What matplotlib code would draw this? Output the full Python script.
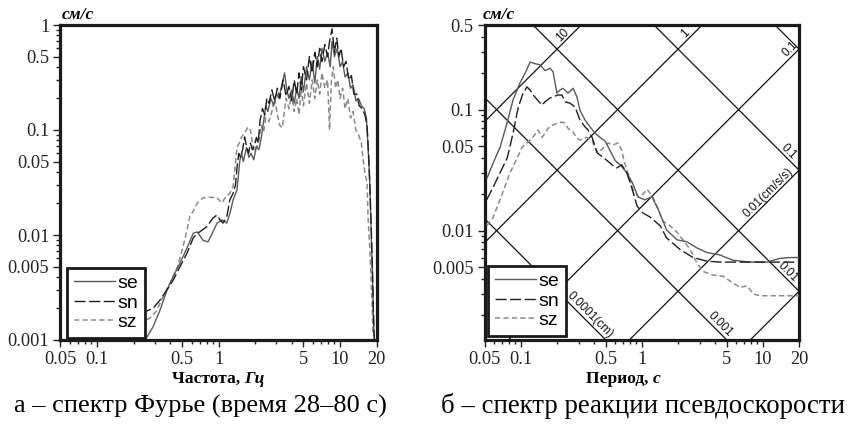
import numpy as np
import matplotlib
matplotlib.use('Agg')
import matplotlib.pyplot as plt
from matplotlib.ticker import FixedLocator, FixedFormatter, NullFormatter

# ---------------- data (left: Fourier spectrum) ----------------
f_se = [0.10,0.15,0.20,0.249,0.289,0.33,0.377,0.423,0.482,0.55,0.62,0.67,0.745,0.82,0.90,0.97,1.07,1.17,1.24,1.32,
        1.42,1.50,1.55,1.60,1.70,1.78,1.85,1.95,2.05,2.15,2.25,2.35,2.45,2.55,2.70,2.85,3.00,3.15,3.30,3.50,
        3.65,3.80,4.00,4.20,4.40,4.60,4.80,5.00,5.30,5.60,5.90,6.20,6.50,6.80,7.10,7.50,7.90,8.30,8.60,9.00,
        9.50,10.0,10.5,11.0,11.6,12.2,12.8,13.5,14.2,15.0,15.8,16.5,17.0,17.5,18.0,18.5,19.0,19.5]
a_se = [0.00098,0.00097,0.00098,0.00100,0.00133,0.00192,0.0030,0.0040,0.0054,0.0075,0.0104,0.0107,0.0089,0.0086,0.0107,
        0.0129,0.0139,0.0130,0.016,0.0216,0.027,0.052,0.060,0.050,0.068,0.055,0.060,0.052,0.070,0.065,
        0.085,0.12,0.17,0.15,0.20,0.17,0.22,0.20,0.26,0.35,0.24,0.20,0.24,0.18,0.25,0.20,0.32,0.23,0.40,0.30,
        0.45,0.28,0.50,0.38,0.60,0.45,0.55,0.40,0.70,0.50,0.60,0.40,0.45,0.32,0.35,0.25,0.27,0.19,0.20,0.17,
        0.16,0.13,0.07,0.035,0.012,0.004,0.0012,0.0008]

f_sn = [0.10,0.15,0.20,0.246,0.289,0.33,0.377,0.423,0.482,0.55,0.62,0.67,0.70,0.80,0.90,0.97,1.03,1.09,1.17,1.24,
        1.32,1.38,1.42,1.47,1.52,1.58,1.64,1.70,1.77,1.83,1.90,1.97,2.05,2.12,2.20,2.30,2.40,2.50,2.60,2.75,
        2.90,3.05,3.20,3.40,3.60,3.80,4.00,4.20,4.40,4.60,4.80,5.00,5.30,5.60,5.90,6.20,6.50,6.80,7.10,7.50,
        7.90,8.20,8.60,9.00,9.40,9.80,10.2,10.7,11.2,11.8,12.4,13.0,13.7,14.4,15.2,16.0,16.7,17.3,17.8,18.2,
        18.6,19.0,19.4]
a_sn = [0.0016,0.0017,0.0018,0.00185,0.0020,0.0024,0.0030,0.0037,0.0050,0.0067,0.0094,0.0104,0.0107,0.0120,0.0145,
        0.0155,0.0139,0.0130,0.0149,0.0216,0.025,0.030,0.044,0.060,0.055,0.065,0.086,0.070,0.060,0.075,
        0.065,0.070,0.085,0.075,0.124,0.16,0.14,0.20,0.18,0.24,0.19,0.25,0.20,0.30,0.21,0.26,0.19,0.30,0.22,0.35,
        0.24,0.40,0.30,0.50,0.35,0.55,0.40,0.60,0.45,0.65,0.50,0.70,0.92,0.55,0.75,0.50,0.60,0.40,0.45,0.30,
        0.33,0.22,0.22,0.17,0.16,0.14,0.11,0.05,0.02,0.009,0.0035,0.0012,0.0008]

f_sz = [0.10,0.15,0.20,0.246,0.27,0.31,0.35,0.40,0.46,0.51,0.55,0.58,0.62,0.67,0.745,0.85,0.97,1.07,1.13,1.24,
        1.32,1.37,1.42,1.48,1.55,1.65,1.75,1.83,1.90,1.97,2.05,2.15,2.25,2.35,2.45,2.60,2.75,2.90,3.05,3.20,
        3.35,3.60,3.80,4.00,4.20,4.40,4.60,4.80,5.00,5.30,5.60,5.90,6.20,6.50,6.80,7.10,7.50,7.90,8.20,8.50,
        8.80,9.20,9.60,10.0,10.5,11.0,11.6,12.2,12.8,13.5,14.2,15.0,15.5,16.0,16.7,17.0,17.6,18.3,18.7]
a_sz = [0.0013,0.0014,0.0015,0.00155,0.0016,0.0019,0.0026,0.0035,0.0050,0.0077,0.011,0.0149,0.017,0.0202,0.0226,
        0.0229,0.0226,0.0202,0.0226,0.025,0.029,0.045,0.068,0.075,0.086,0.095,0.107,0.100,0.075,0.062,
        0.068,0.080,0.110,0.095,0.130,0.120,0.150,0.200,0.140,0.110,0.105,0.200,0.160,0.220,0.150,0.200,0.140,0.250,0.170,0.280,
        0.180,0.300,0.200,0.300,0.220,0.350,0.250,0.300,0.100,0.300,0.400,0.250,0.300,0.200,0.250,0.160,0.200,0.130,0.150,0.100,
        0.090,0.075,0.052,0.040,0.031,0.0148,0.0072,0.0024,0.0011]

# ---------------- data (right: pseudo-velocity response spectrum) ----------------
T_se = [0.0524,0.0587,0.0672,0.0768,0.0859,0.098,0.108,0.119,0.13,0.144,0.158,0.174,0.184,0.198,0.21,0.222,0.245,0.27,0.29,0.307,
        0.338,0.372,0.409,0.45,0.495,0.544,0.60,0.66,0.75,0.83,0.93,1.05,1.21,1.36,1.6,1.95,2.35,2.85,3.45,4.4,
        5.65,7.8,10.8,13.8,16.7,20.0]
v_se = [0.0272,0.036,0.049,0.078,0.120,0.166,0.20,0.247,0.24,0.234,0.21,0.22,0.205,0.137,0.145,0.15,0.137,0.15,0.127,0.099,
        0.082,0.072,0.064,0.059,0.055,0.046,0.038,0.035,0.030,0.025,0.019,0.018,0.019,0.015,0.0101,0.0084,0.0081,0.0072,0.0066,0.0063,
        0.0057,0.0055,0.0055,0.0059,0.006,0.006]

T_sn = [0.052,0.059,0.067,0.077,0.086,0.095,0.104,0.112,0.119,0.126,0.149,0.158,0.174,0.185,0.20,0.218,0.231,0.254,0.28,0.307,
        0.338,0.358,0.387,0.425,0.467,0.514,0.565,0.62,0.68,0.75,0.83,0.91,1.02,1.16,1.41,1.6,2.06,2.64,3.45,4.4,
        7.8,12.1,20.0]
v_sn = [0.018,0.023,0.030,0.040,0.064,0.105,0.137,0.154,0.145,0.132,0.109,0.116,0.125,0.127,0.132,0.132,0.116,0.113,0.105,0.082,
        0.072,0.068,0.059,0.044,0.041,0.038,0.035,0.033,0.035,0.030,0.022,0.016,0.014,0.013,0.011,0.0087,0.0070,0.0060,0.0056,0.0055,
        0.0055,0.0055,0.0055]

T_sz = [0.052,0.058,0.064,0.071,0.081,0.093,0.102,0.112,0.119,0.13,0.138,0.149,0.158,0.167,0.18,0.198,0.218,0.231,0.245,0.27,
        0.29,0.307,0.35,0.387,0.409,0.433,0.476,0.524,0.576,0.633,0.68,0.72,0.766,0.84,0.93,1.02,1.1,1.23,1.36,1.49,
        1.7,1.95,2.18,2.5,2.85,3.2,3.86,4.67,5.65,6.45,7.4,8.3,9.4,13.8,20.0]
v_sz = [0.011,0.0125,0.016,0.021,0.030,0.040,0.049,0.053,0.056,0.062,0.068,0.059,0.064,0.070,0.074,0.077,0.079,0.077,0.070,0.065,
        0.058,0.056,0.059,0.056,0.048,0.044,0.048,0.053,0.051,0.053,0.046,0.036,0.030,0.022,0.019,0.020,0.022,0.019,0.015,0.012,
        0.011,0.0097,0.0084,0.0070,0.0054,0.0046,0.0043,0.0042,0.0037,0.0034,0.0035,0.0030,0.0029,0.0029,0.0029]

# tripartite grid levels
disp_levels = [1, 0.1, 0.01, 0.001, 0.0001]      # cm
acc_levels = [10, 1, 0.1, 0.01, 0.001]           # cm/s/s
disp_labels = [(0.1, 15.1, '0.1'), (0.01, 14.9, '0.01'), (0.001, 4.05, '0.001'), (0.0001, 0.341, '0.0001(cm)')]
acc_labels = [(10, 0.238, '10'), (1, 2.47, '1'), (0.1, 18.2, '0.1'), (0.01, 12.0, '0.01(cm/s/s)')]

series = ['se', 'sn', 'sz']
x_ticks = [0.05, 0.1, 0.5, 1, 5, 10, 20]
x_ticklabels = ['0.05', '0.1', '0.5', '1', '5', '10', '20']
y1_ticks = [0.001, 0.005, 0.01, 0.05, 0.1, 0.5, 1]
y1_ticklabels = ['0.001', '0.005', '0.01', '0.05', '0.1', '0.5', '1']
y2_ticks = [0.005, 0.01, 0.05, 0.1, 0.5]
y2_ticklabels = ['0.005', '0.01', '0.05', '0.1', '0.5']

# ---------------- styling ----------------
SERIF = 'Liberation Serif'
SANS = 'Liberation Sans'
styles = {
    'se': dict(color='#5a5a5a', lw=1.0, ls='-'),
    'sn': dict(color='#1e1e1e', lw=1.0, ls=(0, (8, 2.5))),
    'sz': dict(color='#8a8a8a', lw=1.1, ls=(0, (3.5, 2))),
}

W, H = 850, 432
fig = plt.figure(figsize=(W / 100, H / 100), dpi=100)
fig.patch.set_facecolor('white')


def rect(x0, x1, ytop, ybot):
    return [x0 / W, 1 - ybot / H, (x1 - x0) / W, (ybot - ytop) / H]


ax1 = fig.add_axes(rect(60.4, 376.6, 25, 340))
ax2 = fig.add_axes(rect(484.6, 799.4, 25, 340))


def minor_vals(lo, hi):
    out = []
    for e in range(-5, 3):
        for m in range(1, 10):
            v = m * 10.0 ** e
            if lo * 0.999 <= v <= hi * 1.001:
                out.append(v)
    return out


def setup(ax, yt, ytl, ylim):
    ax.set_xscale('log')
    ax.set_yscale('log')
    ax.set_xlim(0.05, 20)
    ax.set_ylim(*ylim)
    ax.xaxis.set_major_locator(FixedLocator(x_ticks))
    ax.xaxis.set_major_formatter(FixedFormatter(x_ticklabels))
    ax.xaxis.set_minor_locator(FixedLocator([v for v in minor_vals(0.05, 20) if v not in x_ticks]))
    ax.xaxis.set_minor_formatter(NullFormatter())
    ax.yaxis.set_major_locator(FixedLocator(yt))
    ax.yaxis.set_major_formatter(FixedFormatter(ytl))
    ax.yaxis.set_minor_locator(FixedLocator([v for v in minor_vals(*ylim) if v not in yt]))
    ax.yaxis.set_minor_formatter(NullFormatter())
    ax.tick_params(which='both', direction='out', top=False, right=False, width=1.0, colors='#222222')
    ax.tick_params(which='major', length=5, pad=3, labelsize=13.2)
    ax.tick_params(which='minor', length=3)
    for lab in ax.get_xticklabels() + ax.get_yticklabels():
        lab.set_fontfamily(SERIF)
    for sp in ax.spines.values():
        sp.set_linewidth(2.3)
        sp.set_color('#1a1a1a')


setup(ax1, y1_ticks, y1_ticklabels, (0.001, 1))
setup(ax2, y2_ticks, y2_ticklabels, (0.00125, 0.5))

# left plot curves
left_data = {'se': (f_se, a_se), 'sn': (f_sn, a_sn), 'sz': (f_sz, a_sz)}
for name in ['sz', 'se', 'sn']:
    x, y = left_data[name]
    ax1.plot(x, y, label=name, **styles[name])

# tripartite grid
T_line = np.logspace(np.log10(0.05), np.log10(20), 300)
for D in disp_levels:
    ax2.plot(T_line, 2 * np.pi * D / T_line, color='#111111', lw=0.9, zorder=1)
for A in acc_levels:
    ax2.plot(T_line, A * T_line / (2 * np.pi), color='#111111', lw=0.9, zorder=1)
for D, T, s in disp_labels:
    ax2.text(T, 2 * np.pi * D / T, s, rotation=-45, rotation_mode='anchor', ha='center', va='bottom',
             fontsize=8.5, family=SANS, color='#111111')
for A, T, s in acc_labels:
    ax2.text(T, A * T / (2 * np.pi), s, rotation=45, rotation_mode='anchor', ha='center', va='bottom',
             fontsize=8.5, family=SANS, color='#111111')

right_data = {'se': (T_se, v_se), 'sn': (T_sn, v_sn), 'sz': (T_sz, v_sz)}
for name in ['sz', 'se', 'sn']:
    x, y = right_data[name]
    ax2.plot(x, y, label=name, zorder=3, **styles[name])

# legends
for ax, anchor in [(ax1, (0.021, 0.006)), (ax2, (0.011, 0.013))]:
    handles, labels = ax.get_legend_handles_labels()
    order = [labels.index(s) for s in series]
    leg = ax.legend([handles[i] for i in order], [labels[i] for i in order],
                    loc='lower left', bbox_to_anchor=anchor, borderaxespad=0,
                    frameon=True, fancybox=False, edgecolor='#1a1a1a', framealpha=1,
                    prop={'family': SANS, 'size': 14}, handlelength=2.1, handletextpad=0.12,
                    labelspacing=0.1, borderpad=0.35)
    leg.get_frame().set_linewidth(2.0)
    leg.set_zorder(5)

# ---------------- texts ----------------
renderer = fig.canvas.get_renderer()


def multi_text(xc, yc, parts, size):
    objs = []
    for s, style in parts:
        t = fig.text(0, 0, s, fontsize=size, fontweight='bold', fontstyle=style, family=SERIF, va='center', ha='left')
        objs.append(t)
    widths = [t.get_window_extent(renderer).width for t in objs]
    x0 = xc - sum(widths) / 2
    for t, w in zip(objs, widths):
        t.set_position((x0 / W, 1 - yc / H))
        x0 += w


multi_text(218.5, 379, [('Частота, ', 'normal'), ('Гц', 'italic')], 12.6)
multi_text(623.5, 379, [('Период, ', 'normal'), ('с', 'italic')], 12.6)

fig.text(62 / W, 1 - 15 / H, 'см/с', fontsize=12.5, fontweight='bold', fontstyle='italic', family=SERIF,
         ha='left', va='center')
fig.text(483 / W, 1 - 15 / H, 'см/с', fontsize=12.5, fontweight='bold', fontstyle='italic', family=SERIF,
         ha='left', va='center')

fig.text(200 / W, 1 - 406 / H, 'а – спектр Фурье (время 28–80 с)', fontsize=19, family=SERIF,
         ha='center', va='center')
fig.text(643 / W, 1 - 406 / H, 'б – спектр реакции псевдоскорости', fontsize=19.3, family=SERIF,
         ha='center', va='center')

fig.savefig('out.png', dpi=100)
